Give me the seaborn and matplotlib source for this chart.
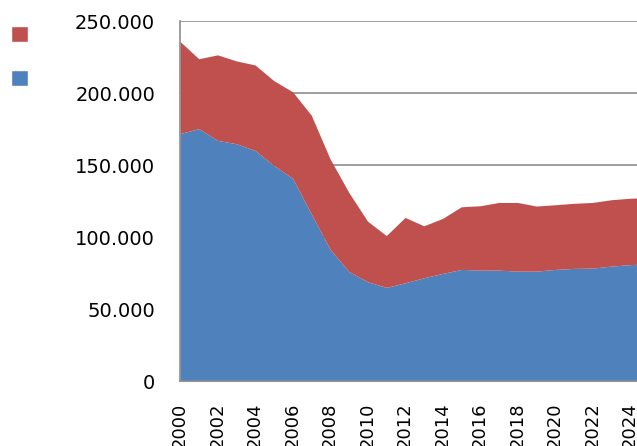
import numpy as np
import pandas as pd
import matplotlib
matplotlib.use("Agg")
import matplotlib.pyplot as plt
import matplotlib.ticker as mticker
from matplotlib.patches import Patch
import seaborn as sns

# ── data ──────────────────────────────────────────────────────────────────────
years = list(range(2000, 2026))
blue_values = [171.8, 175.3, 167.1, 164.8, 160.1, 149.7, 140.8, 116.0, 91.5, 76.0,
               69.0, 65.0, 68.2, 71.7, 74.7, 77.5, 77.0, 77.0, 76.3, 76.3,
               77.5, 78.2, 78.4, 79.8, 80.8, 81.5]
total_values = [235.8, 223.8, 226.5, 222.3, 219.5, 208.6, 200.9, 184.6, 154.3, 131.0,
                111.0, 101.0, 113.6, 107.8, 112.9, 121.0, 121.7, 124.0, 124.0, 121.5,
                122.4, 123.4, 124.0, 125.9, 126.9, 127.5]
series_labels = ["", ""]
xtick_years = list(range(2000, 2026, 2))
yticks = [0, 50000, 100000, 150000, 200000, 250000]

BLUE = "#4F81BD"
RED = "#C0504D"

df = pd.DataFrame({
    "year": years,
    "blue": np.array(blue_values) * 1000,
    "red": (np.array(total_values) - np.array(blue_values)) * 1000,
})

sns.set_theme(style="white")
plt.rcParams["font.family"] = ["DejaVu Sans"]

fig = plt.figure(figsize=(6.37, 4.46), dpi=100)
ax = fig.add_axes([0.2826, 0.1457, 0.7174, 0.8072])

ax.stackplot(df["year"], df["blue"], df["red"], colors=[BLUE, RED],
             linewidth=0, zorder=2)

ax.set_xlim(2000, 2024.37)
ax.set_ylim(0, 250000)
ax.set_yticks(yticks)
ax.yaxis.set_major_formatter(
    mticker.FuncFormatter(lambda v, p: f"{int(v):,}".replace(",", ".")))
ax.set_xticks(xtick_years)
ax.set_xticklabels([str(y) for y in xtick_years], rotation=90, fontsize=13)
ax.tick_params(axis="y", labelsize=14, pad=18, length=0, colors="#000000")
ax.tick_params(axis="x", length=0, pad=15.5, colors="#000000")

ax.set_axisbelow(True)
ax.grid(axis="y", color="#8c8c8c", linewidth=1.2, zorder=0)
for side in ["top", "right"]:
    ax.spines[side].set_visible(False)
for side in ["left", "bottom"]:
    ax.spines[side].set_color("#8c8c8c")
    ax.spines[side].set_linewidth(1.2)
    ax.spines[side].set_zorder(3)

handles = [Patch(facecolor=RED, label=series_labels[1]),
           Patch(facecolor=BLUE, label=series_labels[0])]
fig.legend(handles=handles, loc="upper left", bbox_to_anchor=(0.0173, 0.9417),
           frameon=False, handlelength=1.0, handleheight=1.0, borderpad=0,
           borderaxespad=0, labelspacing=1.5, fontsize=12.5)

fig.savefig("out.png", dpi=100)
